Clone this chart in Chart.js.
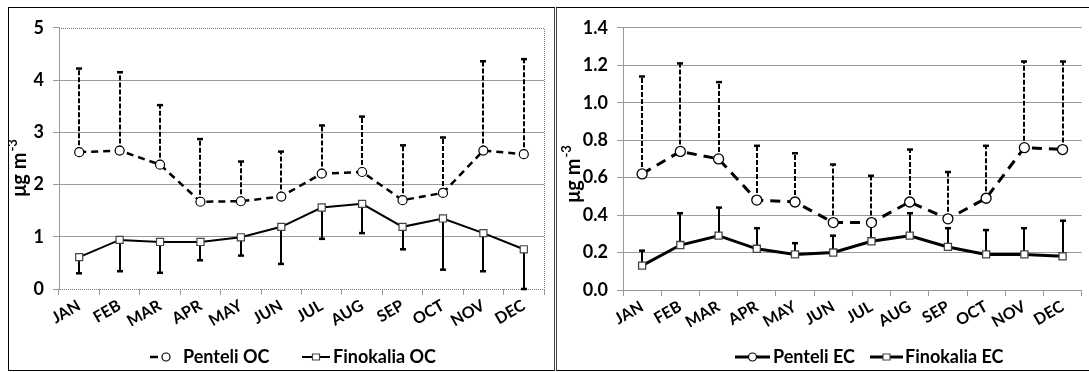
<!DOCTYPE html>
<html>
<head>
<meta charset="utf-8">
<script src="https://cdn.jsdelivr.net/npm/chart.js@4.4.0/dist/chart.umd.min.js"></script>
<style>
    html, body { margin: 0; padding: 0; background: #fff; }
    body { width: 1089px; height: 372px; position: relative; overflow: hidden; }
    .frame { position: absolute; box-sizing: border-box; }
    #frame-left { left: 8px; top: 7px; width: 547px; height: 364px; border: 1px solid #000; border-right: 1px solid #444; }
    #frame-right { left: 556px; top: 7px; width: 533px; height: 364px; border-top: 1px solid #000; border-bottom: 1px solid #000; border-left: 1px solid #444; }
    canvas { position: absolute; }
    #ocChart { left: 9px; top: 8px; }
    #ecChart { left: 557px; top: 8px; }
</style>
</head>
<body>
<div class="frame" id="frame-left"></div>
<div class="frame" id="frame-right"></div>
<canvas id="ocChart" width="543" height="362"></canvas>
<canvas id="ecChart" width="531" height="362"></canvas>
<script>
// Data
const months = ['JAN', 'FEB', 'MAR', 'APR', 'MAY', 'JUN', 'JUL', 'AUG', 'SEP', 'OCT', 'NOV', 'DEC'];

const penteliOC = [2.62, 2.65, 2.38, 1.67, 1.68, 1.77, 2.21, 2.24, 1.70, 1.84, 2.65, 2.58];
const penteliOCUpper = [4.22, 4.15, 3.52, 2.87, 2.44, 2.63, 3.13, 3.30, 2.75, 2.90, 4.36, 4.40];
const finokaliaOC = [0.61, 0.94, 0.90, 0.90, 0.99, 1.19, 1.56, 1.63, 1.19, 1.35, 1.07, 0.76];
const finokaliaOCLower = [0.30, 0.34, 0.31, 0.55, 0.64, 0.48, 0.96, 1.07, 0.76, 0.37, 0.34, 0.00];

const penteliEC = [0.62, 0.74, 0.70, 0.48, 0.47, 0.36, 0.36, 0.47, 0.38, 0.49, 0.76, 0.75];
const penteliECUpper = [1.14, 1.21, 1.11, 0.77, 0.73, 0.67, 0.61, 0.75, 0.63, 0.77, 1.22, 1.22];
const finokaliaEC = [0.13, 0.24, 0.29, 0.22, 0.19, 0.20, 0.26, 0.29, 0.23, 0.19, 0.19, 0.18];
const finokaliaECUpper = [0.21, 0.41, 0.44, 0.33, 0.25, 0.29, 0.35, 0.41, 0.33, 0.32, 0.33, 0.37];

const ocTicks = [0, 1, 2, 3, 4, 5];
const ecTicks = [0, 0.2, 0.4, 0.6, 0.8, 1.0, 1.2, 1.4];

Chart.defaults.font.family = 'Lato, "Open Sans", sans-serif';
Chart.defaults.font.weight = 'bold';
Chart.defaults.color = '#000';

const GRID = '#9a9a9a';

// Error bars from the dataset's errorEnds, drawn under the lines
const errorBarPlugin = {
    id: 'errorBars',
    beforeDatasetsDraw(chart) {
        const { ctx } = chart;
        const xs = chart.scales.x;
        const ys = chart.scales.y;
        chart.data.datasets.forEach(ds => {
            if (!ds.errorEnds) return;
            ctx.save();
            ctx.strokeStyle = '#000';
            ds.errorEnds.forEach((end, i) => {
                const px = Math.round(xs.getPixelForValue(i));
                const y0 = ys.getPixelForValue(ds.data[i]);
                const y1 = ys.getPixelForValue(end);
                ctx.lineWidth = ds.errorWidth;
                ctx.setLineDash(ds.errorDash);
                ctx.beginPath();
                ctx.moveTo(px, y0);
                ctx.lineTo(px, y1);
                ctx.stroke();
                ctx.setLineDash([]);
                ctx.lineWidth = 2.5;
                ctx.beginPath();
                ctx.moveTo(px - 3, y1);
                ctx.lineTo(px + 3, y1);
                ctx.stroke();
            });
            ctx.restore();
        });
    }
};

// Dotted border round the plot area (left chart only)
const dottedFrame = {
    id: 'dottedFrame',
    beforeDatasetsDraw(chart) {
        const { ctx, chartArea: a } = chart;
        ctx.save();
        ctx.strokeStyle = '#777';
        ctx.lineWidth = 1;
        ctx.setLineDash([1, 1]);
        ctx.beginPath();
        ctx.moveTo(a.left, Math.round(a.top) + 0.5);
        ctx.lineTo(Math.round(a.right) + 0.5, Math.round(a.top) + 0.5);
        ctx.lineTo(Math.round(a.right) + 0.5, Math.round(a.bottom) + 0.5);
        ctx.lineTo(a.left, Math.round(a.bottom) + 0.5);
        ctx.stroke();
        ctx.restore();
    }
};

// Rotated y title with superscript
const axisTitle = (cx, cy) => ({
    id: 'axisTitle',
    afterDraw(chart) {
        const ctx = chart.ctx;
        const main = 'μg m';
        const sup = '-3';
        ctx.save();
        ctx.translate(cx, cy);
        ctx.rotate(-Math.PI / 2);
        ctx.fillStyle = '#000';
        ctx.textBaseline = 'middle';
        ctx.textAlign = 'left';
        ctx.font = 'bold 13px Lato';
        const supW = ctx.measureText(sup).width;
        ctx.font = 'bold 20px Lato';
        const mainW = ctx.measureText(main).width;
        const start = -(mainW + supW + 1) / 2;
        ctx.fillText(main, start, 0);
        ctx.font = 'bold 13px Lato';
        ctx.fillText(sup, start + mainW + 1, -7);
        ctx.restore();
    }
});

// Legend with line + marker symbols
const legendPlugin = (items, cy) => ({
    id: 'customLegend',
    afterDraw(chart) {
        const ctx = chart.ctx;
        items.forEach(it => {
            ctx.save();
            ctx.strokeStyle = '#000';
            ctx.lineWidth = it.width;
            ctx.setLineDash(it.dash);
            ctx.beginPath();
            ctx.moveTo(it.x1, cy);
            ctx.lineTo(it.x2, cy);
            ctx.stroke();
            ctx.setLineDash([]);
            const mx = it.mx !== undefined ? it.mx : (it.x1 + it.x2) / 2;
            ctx.fillStyle = '#fff';
            ctx.lineWidth = 1.2;
            ctx.strokeStyle = it.marker === 'rect' ? '#444' : '#000';
            ctx.beginPath();
            if (it.marker === 'rect') {
                ctx.rect(mx - 3.5, cy - 3, 7, 6);
            } else {
                ctx.arc(mx, cy, 4, 0, Math.PI * 2);
            }
            ctx.fill();
            ctx.stroke();
            ctx.fillStyle = '#000';
            ctx.font = 'bold 18px Lato';
            ctx.textBaseline = 'middle';
            ctx.textAlign = 'left';
            ctx.fillText(it.text, it.tx, cy);
            ctx.restore();
        });
    }
});

const buildOptions = ({ ticks, max, yWidth, xHeight, padding, fmt, hideEdges }) => ({
    responsive: false,
    animation: false,
    layout: { padding },
    plugins: { legend: { display: false }, tooltip: { enabled: false } },
    scales: {
        x: {
            type: 'category',
            offset: true,
            grid: { offset: true, drawOnChartArea: false, tickLength: 6, color: GRID },
            border: { display: !hideEdges, color: GRID },
            ticks: { autoSkip: false, minRotation: 30, maxRotation: 30, padding: 1, font: { size: 16, weight: 'bold' } },
            afterFit: scale => {
                scale.height = xHeight;
                scale.paddingLeft = 0;
                scale.paddingRight = 0;
            }
        },
        y: {
            min: 0,
            max,
            afterBuildTicks: scale => { scale.ticks = ticks.map(v => ({ value: v })); },
            grid: {
                tickLength: 6,
                tickColor: GRID,
                color: c => (hideEdges && (c.tick.value === 0 || c.tick.value === max)) ? 'rgba(0,0,0,0)' : GRID
            },
            border: { color: GRID },
            ticks: { padding: 9, font: { size: 18, weight: 'bold' }, callback: v => fmt(v) },
            afterFit: scale => { scale.width = yWidth; }
        }
    }
});

const initOCChart = () => {
    const ctx = document.getElementById('ocChart').getContext('2d');
    new Chart(ctx, {
        type: 'line',
        data: {
            labels: months,
            datasets: [
                {
                    label: 'Penteli OC',
                    data: penteliOC,
                    errorEnds: penteliOCUpper,
                    errorDash: [5, 2],
                    errorWidth: 2,
                    borderColor: '#000',
                    borderWidth: 2.5,
                    borderDash: [7, 5],
                    tension: 0,
                    pointStyle: 'circle',
                    pointRadius: 4.5,
                    pointBorderWidth: 1.2,
                    pointBorderColor: '#000',
                    pointBackgroundColor: '#fff'
                },
                {
                    label: 'Finokalia OC',
                    data: finokaliaOC,
                    errorEnds: finokaliaOCLower,
                    errorDash: [],
                    errorWidth: 2,
                    borderColor: '#000',
                    borderWidth: 2,
                    tension: 0,
                    pointStyle: 'rect',
                    pointRadius: 5,
                    pointBorderWidth: 1.2,
                    pointBorderColor: '#444',
                    pointBackgroundColor: '#fff'
                }
            ]
        },
        options: buildOptions({
            ticks: ocTicks, max: 5, yWidth: 50, xHeight: 81,
            padding: { left: 0, top: 17, right: 8, bottom: 0 },
            fmt: v => String(v), hideEdges: true
        }),
        plugins: [
            dottedFrame,
            errorBarPlugin,
            axisTitle(11, 160),
            legendPlugin([
                { x1: 141, x2: 149, mx: 157, dash: [], width: 2.5, marker: 'circle', text: 'Penteli OC', tx: 174 },
                { x1: 293, x2: 321, dash: [], width: 2, marker: 'rect', text: 'Finokalia OC', tx: 324 }
            ], 349)
        ]
    });
};

const initECChart = () => {
    const ctx = document.getElementById('ecChart').getContext('2d');
    new Chart(ctx, {
        type: 'line',
        data: {
            labels: months,
            datasets: [
                {
                    label: 'Penteli EC',
                    data: penteliEC,
                    errorEnds: penteliECUpper,
                    errorDash: [5, 2],
                    errorWidth: 2,
                    borderColor: '#000',
                    borderWidth: 3,
                    borderDash: [10, 7],
                    tension: 0,
                    pointStyle: 'circle',
                    pointRadius: 5,
                    pointBorderWidth: 1.3,
                    pointBorderColor: '#000',
                    pointBackgroundColor: '#fff'
                },
                {
                    label: 'Finokalia EC',
                    data: finokaliaEC,
                    errorEnds: finokaliaECUpper,
                    errorDash: [],
                    errorWidth: 2,
                    borderColor: '#000',
                    borderWidth: 3,
                    tension: 0,
                    pointStyle: 'rect',
                    pointRadius: 5,
                    pointBorderWidth: 1.3,
                    pointBorderColor: '#444',
                    pointBackgroundColor: '#fff'
                }
            ]
        },
        options: buildOptions({
            ticks: ecTicks, max: 1.4, yWidth: 66, xHeight: 80,
            padding: { left: 0, top: 19, right: 1, bottom: 0 },
            fmt: v => v.toFixed(1), hideEdges: false
        }),
        plugins: [
            errorBarPlugin,
            axisTitle(17, 166),
            legendPlugin([
                { x1: 178, x2: 213, dash: [], width: 3, marker: 'circle', text: 'Penteli EC', tx: 216 },
                { x1: 313, x2: 346, dash: [], width: 3, marker: 'rect', text: 'Finokalia EC', tx: 348 }
            ], 349)
        ]
    });
};

initOCChart();
initECChart();
</script>
</body>
</html>
